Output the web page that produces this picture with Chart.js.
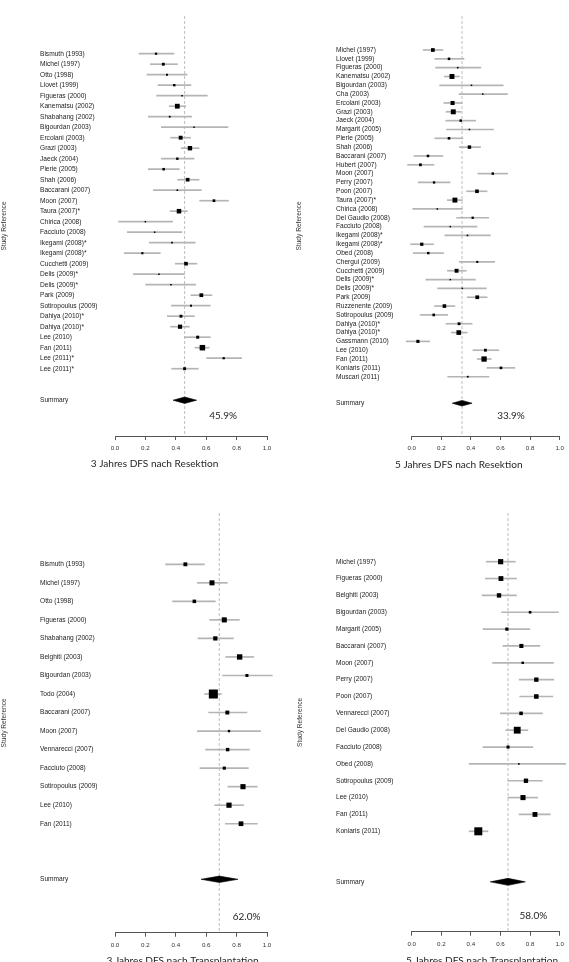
<!DOCTYPE html>
<html><head><meta charset="utf-8">
<script src="https://cdn.jsdelivr.net/npm/chart.js@4.4.1/dist/chart.umd.min.js"></script>
<style>
html,body{margin:0;padding:0;background:#fff;width:569px;height:962px;overflow:hidden}
canvas{position:absolute;display:block}
</style></head><body>
<canvas id="c1" width="285" height="480" style="left:0;top:0;width:285px;height:480px"></canvas>
<canvas id="c2" width="284" height="480" style="left:285px;top:0;width:284px;height:480px"></canvas>
<canvas id="c3" width="285" height="482" style="left:0;top:480px;width:285px;height:482px"></canvas>
<canvas id="c4" width="284" height="482" style="left:285px;top:480px;width:284px;height:482px"></canvas>
<script>
// ---------- DATA ----------
const tickValues = [0.0, 0.2, 0.4, 0.6, 0.8, 1.0];

// 3-year DFS after resection
const studies3R = ['Bismuth (1993)','Michel (1997)','Otto (1998)','Llovet (1999)','Figueras (2000)','Kanematsu (2002)','Shabahang (2002)','Bigourdan (2003)','Ercolani (2003)','Grazi (2003)','Jaeck (2004)','Pierie (2005)','Shah (2006)','Baccarani (2007)','Moon (2007)','Taura (2007)*','Chirica (2008)','Facciuto (2008)','Ikegami (2008)*','Ikegami (2008)*','Cucchetti (2009)','Delis (2009)*','Delis (2009)*','Park (2009)','Sotiropoulus (2009)','Dahiya (2010)*','Dahiya (2010)*','Lee (2010)','Fan (2011)','Lee (2011)*','Lee (2011)*'];
const est3R = [0.270,0.318,0.342,0.390,0.441,0.410,0.360,0.520,0.432,0.493,0.410,0.320,0.478,0.410,0.651,0.421,0.200,0.261,0.375,0.180,0.467,0.289,0.368,0.568,0.500,0.434,0.428,0.544,0.575,0.715,0.458];
const lo3R  = [0.158,0.232,0.210,0.283,0.274,0.357,0.219,0.305,0.366,0.436,0.305,0.219,0.412,0.252,0.557,0.362,0.024,0.081,0.226,0.061,0.397,0.121,0.202,0.500,0.371,0.344,0.366,0.456,0.526,0.603,0.373];
const hi3R  = [0.388,0.412,0.474,0.500,0.607,0.465,0.504,0.743,0.498,0.553,0.520,0.423,0.553,0.568,0.746,0.476,0.379,0.441,0.528,0.298,0.539,0.456,0.530,0.638,0.627,0.522,0.489,0.627,0.620,0.833,0.548];
const summary3R = [0.382, 0.458, 0.537];
const pct3R = '45.9%';
const caption3R = '3 Jahres DFS nach Resektion';

// 5-year DFS after resection
const studies5R = ['Michel (1997)','Llovet (1999)','Figueras (2000)','Kanematsu (2002)','Bigourdan (2003)','Cha (2003)','Ercolani (2003)','Grazi (2003)','Jaeck (2004)','Margarit (2005)','Pierie (2005)','Shah (2006)','Baccarani (2007)','Hubert (2007)','Moon (2007)','Perry (2007)','Poon (2007)','Taura (2007)*','Chirica (2008)','Del Gaudio (2008)','Facciuto (2008)','Ikegami (2008)*','Ikegami (2008)*','Obed (2008)','Chergui (2009)','Cucchetti (2009)','Delis (2009)*','Delis (2009)*','Park (2009)','Ruzzenente (2009)','Sotiropoulus (2009)','Dahiya (2010)*','Dahiya (2010)*','Gassmann (2010)','Lee (2010)','Fan (2011)','Koniaris (2011)','Muscari (2011)'];
const est5R = [0.143,0.252,0.311,0.272,0.404,0.480,0.276,0.281,0.331,0.390,0.252,0.390,0.110,0.059,0.548,0.151,0.441,0.292,0.173,0.412,0.261,0.377,0.068,0.112,0.443,0.303,0.261,0.342,0.443,0.221,0.149,0.320,0.318,0.042,0.498,0.489,0.603,0.379];
const lo5R  = [0.077,0.156,0.162,0.221,0.189,0.320,0.217,0.232,0.230,0.235,0.156,0.322,0.015,-0.028,0.447,0.044,0.371,0.241,0.007,0.303,0.083,0.224,-0.007,0.011,0.322,0.241,0.096,0.175,0.375,0.154,0.057,0.232,0.268,-0.037,0.414,0.443,0.509,0.243];
const hi5R  = [0.211,0.353,0.467,0.322,0.618,0.647,0.340,0.333,0.432,0.553,0.346,0.465,0.211,0.151,0.649,0.259,0.509,0.342,0.342,0.520,0.441,0.531,0.147,0.215,0.561,0.368,0.430,0.504,0.509,0.292,0.243,0.408,0.375,0.121,0.588,0.537,0.697,0.522];
const summary5R = [0.274, 0.340, 0.408];
const pct5R = '33.9%';
const caption5R = '5 Jahres DFS nach Resektion';

// 3-year DFS after transplantation
const studies3T = ['Bismuth (1993)','Michel (1997)','Otto (1998)','Figueras (2000)','Shabahang (2002)','Belghiti (2003)','Bigourdan (2003)','Todo (2004)','Baccarani (2007)','Moon (2007)','Vennarecci (2007)','Facciuto (2008)','Sotiropoulus (2009)','Lee (2010)','Fan (2011)'];
const est3T = [0.463,0.638,0.522,0.719,0.660,0.820,0.868,0.647,0.739,0.750,0.741,0.719,0.842,0.750,0.829];
const lo3T  = [0.333,0.542,0.379,0.623,0.546,0.728,0.708,0.590,0.616,0.542,0.596,0.559,0.743,0.656,0.726];
const hi3T  = [0.588,0.739,0.660,0.818,0.779,0.912,1.035,0.700,0.868,0.958,0.884,0.877,0.936,0.846,0.936];
const summary3T = [0.566, 0.686, 0.809];
const pct3T = '62.0%';
const caption3T = '3 Jahres DFS nach Transplantation';

// 5-year DFS after transplantation
const studies5T = ['Michel (1997)','Figueras (2000)','Belghiti (2003)','Bigourdan (2003)','Margarit (2005)','Baccarani (2007)','Moon (2007)','Perry (2007)','Poon (2007)','Vennarecci (2007)','Del Gaudio (2008)','Facciuto (2008)','Obed (2008)','Sotiropoulus (2009)','Lee (2010)','Fan (2011)','Koniaris (2011)'];
const est5T = [0.601,0.603,0.590,0.800,0.643,0.741,0.750,0.842,0.842,0.739,0.713,0.651,0.724,0.772,0.752,0.833,0.450];
const lo5T  = [0.504,0.498,0.476,0.607,0.482,0.616,0.546,0.726,0.730,0.599,0.636,0.482,0.388,0.649,0.651,0.726,0.388];
const hi5T  = [0.700,0.708,0.708,0.991,0.798,0.866,0.958,0.960,0.954,0.884,0.785,0.818,1.040,0.882,0.851,0.936,0.515];
const summary5T = [0.531, 0.651, 0.768];
const pct5T = '58.0%';
const caption5T = '5 Jahres DFS nach Transplantation';

// ---------- STYLE / LAYOUT ----------
const LABEL_FAMILY = '"Liberation Sans", Arial, sans-serif';
const LABEL_SIZE = 6.6;
const LABEL_LH = LABEL_SIZE * 1.2;
const TICK_SIZE = 6.2;
const CAP_FAMILY = 'Lato, "Open Sans", sans-serif';

function fitSize(text, family, target) {
  const c = document.createElement('canvas').getContext('2d');
  c.font = '100px ' + family;
  return 100 * target / c.measureText(text).width;
}
const PCT_SIZE = fitSize('45.9%', CAP_FAMILY, 27.7);
const CAP_SIZE = fitSize('3 Jahres DFS nach Resektion', CAP_FAMILY, 127.7);

const panels = [
  {id:'c1', left:0,   top:0,   w:285, h:480, plotL:115,   plotR:267,   plotT:16,  plotB:436,   labelX:40,  titleX:4,  row0:53.7,  dy:10.5,  maxBox:5.5, diaPx:3.2,
   pctPos:{x:0.711,row:34.5}, capPos:{x:0.26,row:39.08}},
  {id:'c2', left:285, top:0,   w:284, h:480, plotL:411.7, plotR:563.7, plotT:16,  plotB:436,   labelX:336, titleX:299, row0:50,    dy:8.83,  maxBox:5.3, diaPx:2.8,
   pctPos:{x:0.671,row:41.42}, capPos:{x:0.318,row:46.92}},
  {id:'c3', left:0,   top:480, w:285, h:482, plotL:115,   plotR:267,   plotT:513, plotB:932.7, labelX:40,  titleX:4,  row0:564.3, dy:18.53, maxBox:9,   diaPx:3.2,
   pctPos:{x:0.866,row:19.02}, capPos:{x:0.444,row:21.41}},
  {id:'c4', left:285, top:480, w:284, h:482, plotL:411.7, plotR:563.7, plotT:513, plotB:931.7, labelX:336, titleX:300, row0:561.7, dy:16.85, maxBox:8,   diaPx:3.5,
   pctPos:{x:0.822,row:21.04}, capPos:{x:0.476,row:23.7}}
];

const captionPlugin = {
  id: 'captions',
  afterDraw(chart, args, opts) {
    const {ctx} = chart;
    const xs = chart.scales.x, ys = chart.scales.y;
    ctx.save();
    ctx.fillStyle = '#262626';
    ctx.textAlign = 'center';
    ctx.textBaseline = 'middle';
    for (const t of opts.items || []) {
      ctx.font = t.size + 'px ' + CAP_FAMILY;
      ctx.fillText(t.text, xs.getPixelForValue(t.x), ys.getPixelForValue(t.row));
    }
    ctx.restore();
  }
};

function makePanel(cfg, names, est, lo, hi, sum, pctText, capText) {
  const n = names.length;
  const sumRow = n + 2;
  const tickRows = names.map((_, i) => i).concat([sumRow]);
  const labelOf = {};
  names.forEach((s, i) => { labelOf[i] = s; });
  labelOf[sumRow] = 'Summary';
  const yMin = (cfg.plotT - cfg.row0) / cfg.dy;
  const yMax = (cfg.plotB - cfg.row0) / cfg.dy;
  const widths = hi.map((h, i) => h - lo[i]);
  const minW = Math.min(...widths);
  const radii = widths.map(w => Math.max(1.5, cfg.maxBox * minW / w) / Math.SQRT2);
  const dh = cfg.diaPx / cfg.dy;

  const canvas = document.getElementById(cfg.id);
  const padLeft = cfg.labelX - cfg.left;          // y scale box starts where labels start
  const yWidth = cfg.plotL - cfg.labelX;
  const titlePad = (cfg.titleX - cfg.left) - padLeft - LABEL_LH / 2;

  return new Chart(canvas, {
    type: 'line',
    data: {
      datasets: [
        { type: 'line', label: 'estimate', data: est.map((v, i) => ({x: v, y: i})),
          showLine: false, pointStyle: 'rect', pointRadius: radii, pointBackgroundColor: '#000',
          pointBorderColor: '#000', pointBorderWidth: 0, order: 0, clip: false },
        { type: 'line', label: 'summary',
          data: [{x: sum[0], y: sumRow}, {x: sum[1], y: sumRow - dh}, {x: sum[2], y: sumRow}, {x: sum[1], y: sumRow + dh}, {x: sum[0], y: sumRow}],
          fill: 'shape', backgroundColor: '#000', borderColor: '#000', borderWidth: 0.6,
          pointRadius: 0, tension: 0, order: 1, clip: false },
        { type: 'bar', label: 'ci', data: lo.map((v, i) => ({y: i, x: [v, hi[i]]})),
          backgroundColor: '#b4b4b4', barThickness: 1, borderWidth: 0, order: 2, clip: false },
        { type: 'line', label: 'pooled', data: [{x: sum[1], y: yMin}, {x: sum[1], y: yMax}],
          borderColor: '#bdbdbd', borderWidth: 1, borderDash: [3, 2], pointRadius: 0, order: 3 }
      ]
    },
    options: {
      indexAxis: 'y',
      responsive: false,
      devicePixelRatio: 1,
      animation: false,
      events: [],
      layout: { padding: { left: padLeft, right: cfg.w - (cfg.plotR - cfg.left), top: cfg.plotT - cfg.top, bottom: 0 } },
      plugins: {
        legend: { display: false },
        tooltip: { enabled: false },
        captions: { items: [
          { text: pctText, x: cfg.pctPos.x, row: cfg.pctPos.row, size: PCT_SIZE },
          { text: capText, x: cfg.capPos.x, row: cfg.capPos.row, size: CAP_SIZE }
        ] }
      },
      scales: {
        x: {
          type: 'linear', min: 0, max: 1, position: 'bottom', offset: false,
          afterBuildTicks: s => { s.ticks = tickValues.map(v => ({value: v})); },
          afterFit: s => { s.height = cfg.top + cfg.h - cfg.plotB; },
          ticks: { callback: v => Number(v).toFixed(1), font: { family: LABEL_FAMILY, size: TICK_SIZE }, color: '#333', padding: 5, autoSkip: false, maxRotation: 0 },
          grid: { drawOnChartArea: false, drawTicks: true, tickLength: 4, color: '#555', lineWidth: 1, offset: false },
          border: { display: true, color: '#555', width: 1 }
        },
        y: {
          type: 'linear', reverse: true, min: yMin, max: yMax, offset: false, bounds: 'data',
          afterBuildTicks: s => { s.ticks = tickRows.map(v => ({value: v})); },
          afterFit: s => { s.width = yWidth; },
          ticks: { callback: v => (labelOf[v] !== undefined ? labelOf[v] : ''), crossAlign: 'far', padding: 0, autoSkip: false, font: { family: LABEL_FAMILY, size: LABEL_SIZE }, color: '#222' },
          grid: { display: false, drawTicks: false, tickLength: 0, offset: false },
          border: { display: false },
          title: { display: true, text: 'Study Reference', font: { family: LABEL_FAMILY, size: LABEL_SIZE, lineHeight: 1.2 }, color: '#333', padding: { top: titlePad, bottom: 0 } }
        }
      }
    },
    plugins: [captionPlugin]
  });
}

makePanel(panels[0], studies3R, est3R, lo3R, hi3R, summary3R, pct3R, caption3R);
makePanel(panels[1], studies5R, est5R, lo5R, hi5R, summary5R, pct5R, caption5R);
makePanel(panels[2], studies3T, est3T, lo3T, hi3T, summary3T, pct3T, caption3T);
makePanel(panels[3], studies5T, est5T, lo5T, hi5T, summary5T, pct5T, caption5T);
</script>
</body></html>
